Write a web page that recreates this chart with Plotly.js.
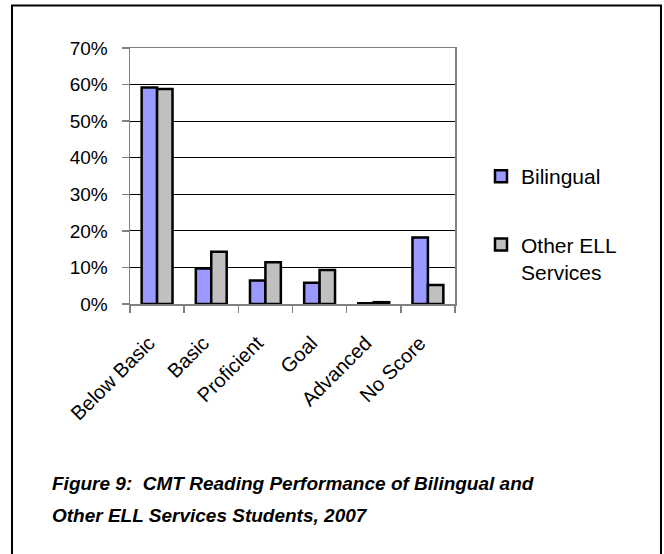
<!DOCTYPE html>
<html>
<head>
<meta charset="utf-8">
<script src="https://cdn.plot.ly/plotly-3.0.1.min.js"></script>
<style>
  html, body { margin: 0; padding: 0; background: #ffffff; }
  #chart { width: 664px; height: 554px; }
</style>
</head>
<body>
<div id="chart"></div>
<script>
// Data
const categories = ["Below Basic", "Basic", "Proficient", "Goal", "Advanced", "No Score"];
const bilingual = [0.592, 0.097, 0.064, 0.058, 0.002, 0.182];
const otherELL  = [0.588, 0.143, 0.114, 0.093, 0.005, 0.052];
const seriesNames = ["Bilingual", "Other ELL<br>Services"];
const yTickVals = [0, 0.1, 0.2, 0.3, 0.4, 0.5, 0.6, 0.7];
const yTickText = ["0%", "10%", "20%", "30%", "40%", "50%", "60%", "70%"];
const captionLine1 = "Figure 9:  CMT Reading Performance of Bilingual and";
const captionLine2 = "Other ELL Services Students, 2007";

const FONT = "Liberation Sans, Arial, Helvetica, sans-serif";

const traces = [
  {
    type: "bar", name: seriesNames[0], x: categories, y: bilingual,
    legendgroup: "a",
    marker: { color: "#9999FF", line: { color: "#000000", width: 2.5 } },
    hoverinfo: "skip"
  },
  {
    type: "bar", name: seriesNames[1], x: categories, y: otherELL,
    legendgroup: "b",
    marker: { color: "#C0C0C0", line: { color: "#000000", width: 2.5 } },
    hoverinfo: "skip"
  }
];

const layout = {
  width: 664, height: 554,
  paper_bgcolor: "#ffffff", plot_bgcolor: "#ffffff",
  margin: { l: 130, r: 209, t: 48, b: 250, pad: 0 },
  font: { family: FONT, size: 18, color: "#000000" },
  barmode: "group", bargap: 0.43, bargroupgap: 0,
  showlegend: true,
  legend: {
    x: 1.08, xanchor: "left", y: 0.578, yanchor: "top",
    font: { family: FONT, size: 21, color: "#000000" },
    traceorder: "grouped", tracegroupgap: 38, valign: "top",
    bgcolor: "rgba(0,0,0,0)", borderwidth: 0
  },
  xaxis: {
    type: "category", tickson: "boundaries", ticks: "outside", ticklen: 7,
    tickcolor: "#808080", tickwidth: 1.5,
    showline: true, linecolor: "#808080", linewidth: 1.5, mirror: true,
    tickangle: -45, ticklabelstandoff: 18, ticklabelshift: -8,
    tickfont: { family: FONT, size: 20, color: "#000000" },
    showgrid: false, zeroline: false, fixedrange: true
  },
  yaxis: {
    range: [0, 0.7], tickvals: yTickVals, ticktext: yTickText,
    ticks: "outside", ticklen: 7, tickcolor: "#808080", tickwidth: 1.5,
    showline: true, linecolor: "#808080", linewidth: 1.5, mirror: true,
    showgrid: true, gridcolor: "#000000", gridwidth: 1,
    zeroline: false, ticklabelstandoff: 10,
    tickfont: { family: FONT, size: 19, color: "#000000" },
    fixedrange: true
  },
  shapes: [
    {
      type: "rect", xref: "paper", yref: "paper",
      x0: -0.3631, x1: 1.6338, y0: -1.2, y1: 1.166,
      line: { color: "#000000", width: 2 }, fillcolor: "rgba(0,0,0,0)", layer: "below"
    }
  ],
  annotations: [
    {
      xref: "paper", yref: "paper", x: -0.246, y: (304 - 483) / 256,
      xanchor: "left", yanchor: "middle", showarrow: false, align: "left",
      text: "<b><i>" + captionLine1 + "</i></b>",
      font: { family: FONT, size: 19, color: "#000000" }
    },
    {
      xref: "paper", yref: "paper", x: -0.246, y: (304 - 515) / 256,
      xanchor: "left", yanchor: "middle", showarrow: false, align: "left",
      text: "<b><i>" + captionLine2 + "</i></b>",
      font: { family: FONT, size: 19, color: "#000000" }
    }
  ]
};

Plotly.newPlot("chart", traces, layout, { displayModeBar: false, staticPlot: true });
</script>
</body>
</html>
